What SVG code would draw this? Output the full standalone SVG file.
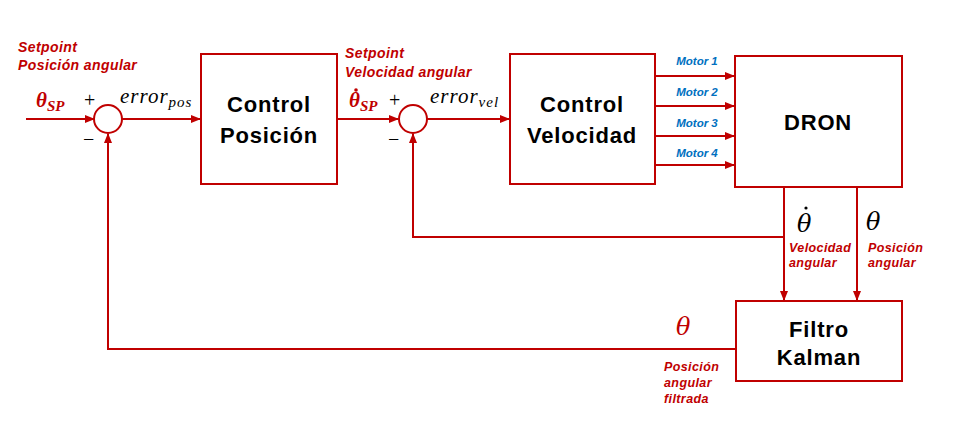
<svg xmlns="http://www.w3.org/2000/svg" width="960" height="439" viewBox="0 0 960 439">
<defs>
<marker id="ah" markerWidth="10" markerHeight="8" refX="9" refY="4" orient="auto" markerUnits="userSpaceOnUse">
<path d="M0,0 L10,4 L0,8 Z" fill="#C00000"/>
</marker>
<style>
.box{fill:#fff;stroke:#C00000;stroke-width:2}
.ln{fill:none;stroke:#C00000;stroke-width:2}
.bt{font-family:"Liberation Sans",Arial,sans-serif;font-weight:bold;font-size:22px;letter-spacing:0.8px;fill:#000;text-anchor:middle}
.lb{font-family:"Liberation Sans",Arial,sans-serif;font-weight:bold;font-style:italic;font-size:14px;letter-spacing:0.4px;fill:#C00000}
.lbs{font-family:"Liberation Sans",Arial,sans-serif;font-weight:bold;font-style:italic;font-size:12.5px;letter-spacing:0.4px;fill:#C00000}
.mt{font-family:"Liberation Sans",Arial,sans-serif;font-weight:bold;font-style:italic;font-size:11.5px;fill:#0070C0;text-anchor:middle}
.mth{font-family:"Liberation Serif","Times New Roman",serif;font-style:italic;font-size:21px;letter-spacing:1px;fill:#000}
.big{font-family:"DejaVu Serif","Liberation Serif",serif;font-style:italic;font-size:24px;fill:#000}
.sg{font-family:"Liberation Serif","Times New Roman",serif;font-size:20px;fill:#000}
.sp{font-family:"Liberation Serif","Times New Roman",serif;font-weight:bold;font-style:italic;font-size:21px;fill:#C00000}
</style>
</defs>
<rect width="960" height="439" fill="#fff"/>
<g id="connectors">
<line class="ln" x1="26" y1="119" x2="94" y2="119" marker-end="url(#ah)"/>
<line class="ln" x1="122" y1="119" x2="200" y2="119" marker-end="url(#ah)"/>
<line class="ln" x1="337" y1="119" x2="398" y2="119" marker-end="url(#ah)"/>
<line class="ln" x1="427" y1="119" x2="509" y2="119" marker-end="url(#ah)"/>
<line class="ln" x1="655" y1="76" x2="734" y2="76" marker-end="url(#ah)"/>
<line class="ln" x1="655" y1="106" x2="734" y2="106" marker-end="url(#ah)"/>
<line class="ln" x1="655" y1="136" x2="734" y2="136" marker-end="url(#ah)"/>
<line class="ln" x1="655" y1="165" x2="734" y2="165" marker-end="url(#ah)"/>
<line class="ln" x1="784" y1="187" x2="784" y2="300" marker-end="url(#ah)"/>
<line class="ln" x1="857" y1="187" x2="857" y2="300" marker-end="url(#ah)"/>
<polyline class="ln" points="784,237 413,237 413,134" marker-end="url(#ah)"/>
<polyline class="ln" points="736,349 108,349 108,134" marker-end="url(#ah)"/>
</g>
<g id="sum1">
<circle cx="108" cy="119" r="14" class="box"/>
<text class="sg" x="84" y="107">+</text>
<text class="sg" x="83" y="146">−</text>
</g>
<g id="sum2">
<circle cx="413" cy="119" r="14" class="box"/>
<text class="sg" x="389" y="107">+</text>
<text class="sg" x="388" y="146">−</text>
</g>
<g id="controlPosicion">
<rect class="box" x="201" y="54" width="136" height="130"/>
<text class="bt" x="269" y="112">Control</text>
<text class="bt" x="269" y="143">Posición</text>
</g>
<g id="controlVelocidad">
<rect class="box" x="510" y="54" width="145" height="130"/>
<text class="bt" x="582" y="112">Control</text>
<text class="bt" x="582" y="143">Velocidad</text>
</g>
<g id="dron">
<rect class="box" x="735" y="56" width="167" height="131"/>
<text class="bt" x="818" y="130">DRON</text>
</g>
<g id="filtroKalman">
<rect class="box" x="736" y="301" width="166" height="80"/>
<text class="bt" x="819" y="337">Filtro</text>
<text class="bt" x="819" y="365">Kalman</text>
</g>
<g id="labels">
<text class="lb" x="18" y="52">Setpoint</text>
<text class="lb" x="18" y="70">Posición angular</text>
<text class="sp" x="36" y="107">θ<tspan style="font-size:15px" dy="4">SP</tspan></text>
<text class="mth" x="120" y="103">error<tspan style="font-size:15px" dy="4">pos</tspan></text>
<text class="lb" x="345" y="58">Setpoint</text>
<text class="lb" x="345" y="77">Velocidad angular</text>
<text class="sp" x="349" y="107">θ<tspan style="font-size:15px" dy="4">SP</tspan></text>
<circle cx="356" cy="90" r="1.8" fill="#C00000"/>
<text class="mth" x="430" y="103">error<tspan style="font-size:15px" dy="4">vel</tspan></text>
<text class="mt" x="697" y="65">Motor 1</text>
<text class="mt" x="697" y="96">Motor 2</text>
<text class="mt" x="697" y="127">Motor 3</text>
<text class="mt" x="697" y="157">Motor 4</text>
<text class="big" x="797" y="232">θ</text>
<circle cx="806" cy="208" r="1.6" fill="#000"/>
<text class="big" x="866" y="230">θ</text>
<text class="lbs" x="789" y="252">Velocidad</text>
<text class="lbs" x="789" y="267">angular</text>
<text class="lbs" x="868" y="252">Posición</text>
<text class="lbs" x="868" y="267">angular</text>
<text class="big" x="676" y="335" style="fill:#C00000">θ</text>
<text class="lbs" x="664" y="371">Posición</text>
<text class="lbs" x="664" y="387">angular</text>
<text class="lbs" x="664" y="403">filtrada</text>
</g>
</svg>
